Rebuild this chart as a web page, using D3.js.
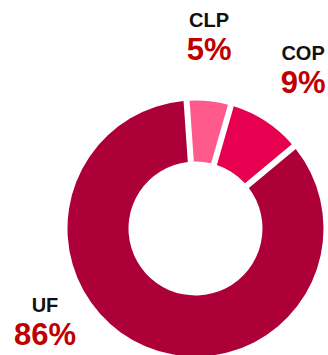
<!DOCTYPE html>
<html>
<head>
<meta charset="utf-8">
<script src="https://cdn.jsdelivr.net/npm/d3@7"></script>
<style>
  html, body { margin: 0; padding: 0; background: #fff; }
  svg { display: block; }
</style>
</head>
<body>
<svg id="chart" width="328" height="355"></svg>
<script>
// Currency mix of the portfolio
const categories = ["CLP", "COP", "UF"];
const shares = [5, 9, 86];
const sliceColors = ["#FF5A8C", "#E6004F", "#AD0038"];

const width = 328, height = 355;
const cx = 195.5, cy = 228.5;
const outerR = 128, innerR = 67;

const svg = d3.select("#chart");
const g = svg.append("g").attr("transform", `translate(${cx},${cy})`);

const startA = -4 * Math.PI / 180;
const pie = d3.pie()
  .sort(null)
  .value(d => d.value)
  .startAngle(startA)
  .endAngle(startA + 2 * Math.PI)
  .padAngle(0.042);

const arc = d3.arc().innerRadius(innerR).outerRadius(outerR);

const data = categories.map((c, i) => ({ name: c, value: shares[i], color: sliceColors[i] }));
const arcs = pie(data);

g.selectAll("path.slice")
  .data(arcs)
  .join("path")
  .attr("class", "slice")
  .attr("d", arc)
  .attr("fill", d => d.data.color);

// Label placement around the ring (angle in degrees clockwise from top, radius in px)
const labelPlacement = {
  CLP: { angle: 4.2, radius: 186 },
  COP: { angle: 35.2, radius: 186.6 },
  UF: { angle: 236.5, radius: 180.5 }
};

const labels = g.selectAll("g.label")
  .data(arcs)
  .join("g")
  .attr("class", "label")
  .attr("transform", d => {
    const p = labelPlacement[d.data.name];
    const a = p.angle * Math.PI / 180;
    return `translate(${p.radius * Math.sin(a)},${-p.radius * Math.cos(a)})`;
  });

labels.append("text")
  .attr("text-anchor", "middle")
  .attr("y", -16)
  .style("font-family", "'Liberation Sans', Arial, sans-serif")
  .style("font-weight", "bold")
  .style("font-size", "20px")
  .attr("fill", "#111")
  .text(d => d.data.name);

labels.append("text")
  .attr("text-anchor", "middle")
  .attr("y", 17)
  .style("font-family", "'Liberation Sans', Arial, sans-serif")
  .style("font-weight", "bold")
  .style("font-size", "31px")
  .attr("fill", "#C00000")
  .text(d => `${d.data.value}%`);
</script>
</body>
</html>
